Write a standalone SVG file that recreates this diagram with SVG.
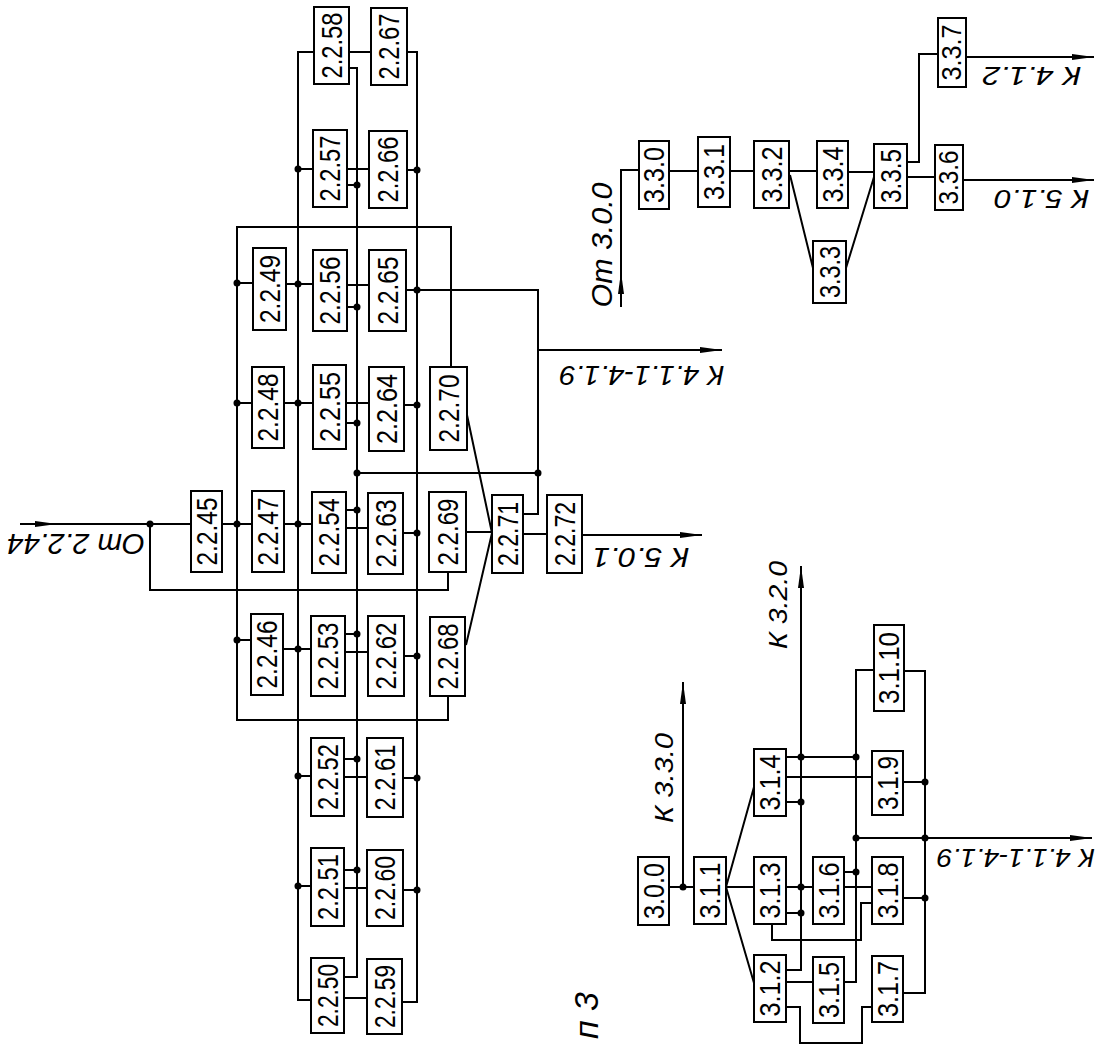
<svg xmlns="http://www.w3.org/2000/svg" width="1102" height="1046" viewBox="0 0 1102 1046">
<style>
.b rect{fill:#fff;stroke:#000;stroke-width:2}
.b text{font-family:"Liberation Sans","DejaVu Sans",sans-serif;font-size:29px;fill:#000;text-anchor:middle}
.c path{fill:none;stroke:#000;stroke-width:2}
.c circle{fill:#000}
.a{fill:none;stroke:#000;stroke-width:2;marker-end:url(#ah)}
.t{font-family:"Liberation Sans","DejaVu Sans",sans-serif;font-style:italic;fill:#000;text-anchor:middle}
</style>
<defs>
<marker id="ah" markerWidth="22" markerHeight="8" refX="22" refY="4" orient="auto" markerUnits="userSpaceOnUse"><path d="M0,1 L22,4 L0,7 Z" fill="#000"/></marker>
</defs>
<rect width="1102" height="1046" fill="#fff"/>
<g id="connectors" class="c">
<path d="M451,367 V227 H237 V720 H448 V696"/>
<path d="M314,52 H298 V1000 H311"/>
<path d="M349,68 H357 V977 H344"/>
<path d="M407,52 H417 V1002 H402"/>
<path d="M349,52 H371"/>
<path d="M298,169 H313 M347,169 H369 M347,185 H357 M407,170 H417"/>
<path d="M237,283 H253 M286,284 H313 M347,285 H369 M347,307 H357"/>
<path d="M406,290 H538 V514 H523"/>
<path d="M237,403 H252 M284,403 H313 M346,403 H369 M346,423 H357 M404,405 H417"/>
<path d="M357,473 H538"/>
<path d="M57,524 H191 M150,524 V590 H448 V572"/>
<path d="M222,524 H252 M284,524 H312 M346,510 H357 M346,528 H368 M403,533 H417 M466,532 H492 M523,534 H547"/>
<path d="M467,415 L492,533 L466,645"/>
<path d="M237,640 H251 M283,649 H311 M345,634 H357 M345,652 H368 M404,656 H417"/>
<path d="M298,776 H311 M344,759 H357 M344,777 H367 M403,778 H417"/>
<path d="M298,886 H311 M344,870 H357 M344,888 H367 M403,890 H417"/>
<path d="M344,998 H367"/>
<path class="a" d="M20,524 H57"/>
<path class="a" d="M538,350 H722"/>
<path class="a" d="M582,535 H702"/>
<circle cx="150" cy="524" r="3.5"/>
<circle cx="237" cy="283" r="3.5"/><circle cx="237" cy="403" r="3.5"/><circle cx="237" cy="524" r="3.5"/><circle cx="237" cy="640" r="3.5"/>
<circle cx="298" cy="169" r="3.5"/><circle cx="298" cy="284" r="3.5"/><circle cx="298" cy="403" r="3.5"/><circle cx="298" cy="524" r="3.5"/><circle cx="298" cy="649" r="3.5"/><circle cx="298" cy="776" r="3.5"/><circle cx="298" cy="886" r="3.5"/>
<circle cx="357" cy="185" r="3.5"/><circle cx="357" cy="307" r="3.5"/><circle cx="357" cy="423" r="3.5"/><circle cx="357" cy="473" r="3.5"/><circle cx="357" cy="510" r="3.5"/><circle cx="357" cy="634" r="3.5"/><circle cx="357" cy="759" r="3.5"/><circle cx="357" cy="870" r="3.5"/>
<circle cx="417" cy="170" r="3.5"/><circle cx="417" cy="290" r="3.5"/><circle cx="417" cy="405" r="3.5"/><circle cx="417" cy="533" r="3.5"/><circle cx="417" cy="656" r="3.5"/><circle cx="417" cy="778" r="3.5"/><circle cx="417" cy="890" r="3.5"/>
<circle cx="538" cy="473" r="3.5"/>
<path class="a" d="M621,307 V272"/>
<path d="M621,272 V170 H639"/>
<path d="M669,171 H698 M730,171 H754 M789,171 H817 M848,172 H874"/>
<path d="M790,175 L813,268 M846,268 L874,177"/>
<path d="M907,177 H935"/>
<path class="a" d="M963,180 H1094"/>
<path d="M907,162 H919 V54 H938"/>
<path class="a" d="M966,57 H1094"/>
<path d="M669,887 H694"/>
<path class="a" d="M683,887 V682"/>
<path d="M726,887 L754,787 M726,887 H754 M726,887 L754,983"/>
<path class="a" d="M786,970 H801 V566"/>
<path d="M786,757 H856 M786,777 H872 M786,802 H801 M786,887 H813 M786,913 H801"/>
<path d="M772,924 V940 H861 V903 H872"/>
<path d="M874,670 H856 V982 H844"/>
<path d="M844,872 H856 M844,887 H872"/>
<path class="a" d="M856,838 H1092"/>
<path d="M786,982 H813"/>
<path d="M786,1007 H800 V1043 H862 V1007 H872"/>
<path d="M904,671 H925 V993 H903 M903,782 H925 M903,898 H925"/>
<circle cx="683" cy="887" r="3.5"/>
<circle cx="801" cy="757" r="3.5"/><circle cx="801" cy="802" r="3.5"/><circle cx="801" cy="887" r="3.5"/><circle cx="801" cy="913" r="3.5"/>
<circle cx="856" cy="757" r="3.5"/><circle cx="856" cy="838" r="3.5"/><circle cx="856" cy="872" r="3.5"/>
<circle cx="925" cy="782" r="3.5"/><circle cx="925" cy="838" r="3.5"/><circle cx="925" cy="898" r="3.5"/>
</g>
<g class="b">
<g id="n2258"><rect x="314" y="7" width="35" height="77"/><text transform="translate(331.5,45.5) rotate(-90)" y="10" textLength="66" lengthAdjust="spacingAndGlyphs">2.2.58</text></g>
<g id="n2267"><rect x="371" y="8" width="36" height="77"/><text transform="translate(389,46.5) rotate(-90)" y="10" textLength="66" lengthAdjust="spacingAndGlyphs">2.2.67</text></g>
<g id="n2257"><rect x="313" y="130" width="34" height="77"/><text transform="translate(330,168.5) rotate(-90)" y="10" textLength="66" lengthAdjust="spacingAndGlyphs">2.2.57</text></g>
<g id="n2266"><rect x="369" y="131" width="38" height="77"/><text transform="translate(388,169.5) rotate(-90)" y="10" textLength="66" lengthAdjust="spacingAndGlyphs">2.2.66</text></g>
<g id="n2249"><rect x="253" y="248" width="33" height="82"/><text transform="translate(269.5,289) rotate(-90)" y="10" textLength="68" lengthAdjust="spacingAndGlyphs">2.2.49</text></g>
<g id="n2256"><rect x="313" y="250" width="34" height="81"/><text transform="translate(330,290.5) rotate(-90)" y="10" textLength="68" lengthAdjust="spacingAndGlyphs">2.2.56</text></g>
<g id="n2265"><rect x="369" y="250" width="37" height="81"/><text transform="translate(387.5,290.5) rotate(-90)" y="10" textLength="68" lengthAdjust="spacingAndGlyphs">2.2.65</text></g>
<g id="n2248"><rect x="252" y="367" width="32" height="81"/><text transform="translate(268,407.5) rotate(-90)" y="10" textLength="68" lengthAdjust="spacingAndGlyphs">2.2.48</text></g>
<g id="n2255"><rect x="313" y="365" width="33" height="84"/><text transform="translate(329.5,407) rotate(-90)" y="10" textLength="70" lengthAdjust="spacingAndGlyphs">2.2.55</text></g>
<g id="n2264"><rect x="369" y="367" width="35" height="84"/><text transform="translate(386.5,409) rotate(-90)" y="10" textLength="70" lengthAdjust="spacingAndGlyphs">2.2.64</text></g>
<g id="n2270"><rect x="430" y="367" width="37" height="83"/><text transform="translate(448.5,408.5) rotate(-90)" y="10" textLength="68" lengthAdjust="spacingAndGlyphs">2.2.70</text></g>
<g id="n2245"><rect x="191" y="491" width="31" height="81"/><text transform="translate(206.5,531.5) rotate(-90)" y="10" textLength="68" lengthAdjust="spacingAndGlyphs">2.2.45</text></g>
<g id="n2247"><rect x="252" y="491" width="32" height="81"/><text transform="translate(268,531.5) rotate(-90)" y="10" textLength="68" lengthAdjust="spacingAndGlyphs">2.2.47</text></g>
<g id="n2254"><rect x="312" y="492" width="34" height="81"/><text transform="translate(329,532.5) rotate(-90)" y="10" textLength="68" lengthAdjust="spacingAndGlyphs">2.2.54</text></g>
<g id="n2263"><rect x="368" y="493" width="35" height="81"/><text transform="translate(385.5,533.5) rotate(-90)" y="10" textLength="68" lengthAdjust="spacingAndGlyphs">2.2.63</text></g>
<g id="n2269"><rect x="429" y="492" width="37" height="80"/><text transform="translate(447.5,532) rotate(-90)" y="10" textLength="67" lengthAdjust="spacingAndGlyphs">2.2.69</text></g>
<g id="n2271"><rect x="492" y="495" width="31" height="78"/><text transform="translate(507.5,534) rotate(-90)" y="10" textLength="64" lengthAdjust="spacingAndGlyphs">2.2.71</text></g>
<g id="n2272"><rect x="547" y="495" width="35" height="78"/><text transform="translate(564.5,534) rotate(-90)" y="10" textLength="64" lengthAdjust="spacingAndGlyphs">2.2.72</text></g>
<g id="n2246"><rect x="251" y="614" width="32" height="81"/><text transform="translate(267,654.5) rotate(-90)" y="10" textLength="68" lengthAdjust="spacingAndGlyphs">2.2.46</text></g>
<g id="n2253"><rect x="311" y="616" width="34" height="80"/><text transform="translate(328,656) rotate(-90)" y="10" textLength="67" lengthAdjust="spacingAndGlyphs">2.2.53</text></g>
<g id="n2262"><rect x="368" y="616" width="36" height="80"/><text transform="translate(386,656) rotate(-90)" y="10" textLength="67" lengthAdjust="spacingAndGlyphs">2.2.62</text></g>
<g id="n2268"><rect x="430" y="617" width="35" height="79"/><text transform="translate(447.5,656.5) rotate(-90)" y="10" textLength="66" lengthAdjust="spacingAndGlyphs">2.2.68</text></g>
<g id="n2252"><rect x="311" y="738" width="33" height="78"/><text transform="translate(327.5,777) rotate(-90)" y="10" textLength="66" lengthAdjust="spacingAndGlyphs">2.2.52</text></g>
<g id="n2261"><rect x="367" y="738" width="36" height="79"/><text transform="translate(385,777.5) rotate(-90)" y="10" textLength="66" lengthAdjust="spacingAndGlyphs">2.2.61</text></g>
<g id="n2251"><rect x="311" y="848" width="33" height="78"/><text transform="translate(327.5,887) rotate(-90)" y="10" textLength="66" lengthAdjust="spacingAndGlyphs">2.2.51</text></g>
<g id="n2260"><rect x="367" y="850" width="36" height="76"/><text transform="translate(385,888) rotate(-90)" y="10" textLength="64" lengthAdjust="spacingAndGlyphs">2.2.60</text></g>
<g id="n2250"><rect x="311" y="958" width="33" height="75"/><text transform="translate(327.5,995.5) rotate(-90)" y="10" textLength="63" lengthAdjust="spacingAndGlyphs">2.2.50</text></g>
<g id="n2259"><rect x="367" y="959" width="35" height="75"/><text transform="translate(384.5,996.5) rotate(-90)" y="10" textLength="63" lengthAdjust="spacingAndGlyphs">2.2.59</text></g>
<g id="n330"><rect x="639" y="141" width="30" height="68"/><text transform="translate(654,175) rotate(-90)" y="10" textLength="56" lengthAdjust="spacingAndGlyphs">3.3.0</text></g>
<g id="n331"><rect x="698" y="137" width="32" height="70"/><text transform="translate(714,172) rotate(-90)" y="10" textLength="56" lengthAdjust="spacingAndGlyphs">3.3.1</text></g>
<g id="n332"><rect x="754" y="141" width="35" height="67"/><text transform="translate(771.5,174.5) rotate(-90)" y="10" textLength="56" lengthAdjust="spacingAndGlyphs">3.3.2</text></g>
<g id="n334"><rect x="817" y="141" width="31" height="67"/><text transform="translate(832.5,174.5) rotate(-90)" y="10" textLength="56" lengthAdjust="spacingAndGlyphs">3.3.4</text></g>
<g id="n333"><rect x="813" y="241" width="33" height="62"/><text transform="translate(829.5,272) rotate(-90)" y="10" textLength="52" lengthAdjust="spacingAndGlyphs">3.3.3</text></g>
<g id="n335"><rect x="874" y="144" width="33" height="64"/><text transform="translate(890.5,176) rotate(-90)" y="10" textLength="54" lengthAdjust="spacingAndGlyphs">3.3.5</text></g>
<g id="n336"><rect x="935" y="145" width="28" height="65"/><text transform="translate(949,177.5) rotate(-90)" y="9" textLength="54" lengthAdjust="spacingAndGlyphs" style="font-size:27px">3.3.6</text></g>
<g id="n337"><rect x="938" y="18" width="28" height="69"/><text transform="translate(952,52.5) rotate(-90)" y="9" textLength="56" lengthAdjust="spacingAndGlyphs" style="font-size:27px">3.3.7</text></g>
<g id="n300"><rect x="638" y="857" width="31" height="68"/><text transform="translate(653.5,891) rotate(-90)" y="10" textLength="56" lengthAdjust="spacingAndGlyphs">3.0.0</text></g>
<g id="n311"><rect x="694" y="857" width="32" height="67"/><text transform="translate(710,890.5) rotate(-90)" y="10" textLength="56" lengthAdjust="spacingAndGlyphs">3.1.1</text></g>
<g id="n313"><rect x="754" y="857" width="32" height="67"/><text transform="translate(770,890.5) rotate(-90)" y="10" textLength="56" lengthAdjust="spacingAndGlyphs">3.1.3</text></g>
<g id="n316"><rect x="813" y="857" width="31" height="67"/><text transform="translate(828.5,890.5) rotate(-90)" y="10" textLength="56" lengthAdjust="spacingAndGlyphs">3.1.6</text></g>
<g id="n318"><rect x="872" y="857" width="31" height="67"/><text transform="translate(887.5,890.5) rotate(-90)" y="10" textLength="56" lengthAdjust="spacingAndGlyphs">3.1.8</text></g>
<g id="n314"><rect x="754" y="749" width="32" height="67"/><text transform="translate(770,782.5) rotate(-90)" y="10" textLength="56" lengthAdjust="spacingAndGlyphs">3.1.4</text></g>
<g id="n312"><rect x="754" y="955" width="32" height="67"/><text transform="translate(770,988.5) rotate(-90)" y="10" textLength="56" lengthAdjust="spacingAndGlyphs">3.1.2</text></g>
<g id="n315"><rect x="813" y="957" width="31" height="66"/><text transform="translate(828.5,990) rotate(-90)" y="10" textLength="56" lengthAdjust="spacingAndGlyphs">3.1.5</text></g>
<g id="n317"><rect x="872" y="956" width="31" height="66"/><text transform="translate(887.5,989) rotate(-90)" y="10" textLength="56" lengthAdjust="spacingAndGlyphs">3.1.7</text></g>
<g id="n319"><rect x="872" y="751" width="31" height="64"/><text transform="translate(887.5,783) rotate(-90)" y="10" textLength="54" lengthAdjust="spacingAndGlyphs">3.1.9</text></g>
<g id="n3110"><rect x="874" y="625" width="30" height="86"/><text transform="translate(889,668) rotate(-90)" y="10" textLength="72" lengthAdjust="spacingAndGlyphs">3.1.10</text></g>
</g>
<g id="labels">
<text class="t" font-size="30" transform="translate(76,534) rotate(180)" textLength="138" lengthAdjust="spacingAndGlyphs">От 2.2.44</text>
<text class="t" font-size="28" transform="translate(642,366) rotate(180)" textLength="165" lengthAdjust="spacingAndGlyphs">К 4.1.1-4.1.9</text>
<text class="t" font-size="27" transform="translate(641,548) rotate(180)" textLength="97" lengthAdjust="spacingAndGlyphs">К 5.0.1</text>
<text class="t" font-size="26" transform="translate(1042,190) rotate(180)" textLength="95" lengthAdjust="spacingAndGlyphs">К 5.1.0</text>
<text class="t" font-size="26" transform="translate(1032,67) rotate(180)" textLength="99" lengthAdjust="spacingAndGlyphs">К 4.1.2</text>
<text class="t" font-size="26" transform="translate(1016,849) rotate(180)" textLength="158" lengthAdjust="spacingAndGlyphs">К 4.1.1-4.1.9</text>
<text class="t" font-size="30" transform="translate(612,245) rotate(-90)" textLength="125" lengthAdjust="spacingAndGlyphs">От 3.0.0</text>
<text class="t" font-size="26" transform="translate(673,778) rotate(-90)" textLength="90" lengthAdjust="spacingAndGlyphs">К 3.3.0</text>
<text class="t" font-size="26" transform="translate(787,605) rotate(-90)" textLength="88" lengthAdjust="spacingAndGlyphs">К 3.2.0</text>
<text class="t" font-size="34" transform="translate(598,992) rotate(-90)" style="text-anchor:end">п 3</text>
</g>
</svg>
